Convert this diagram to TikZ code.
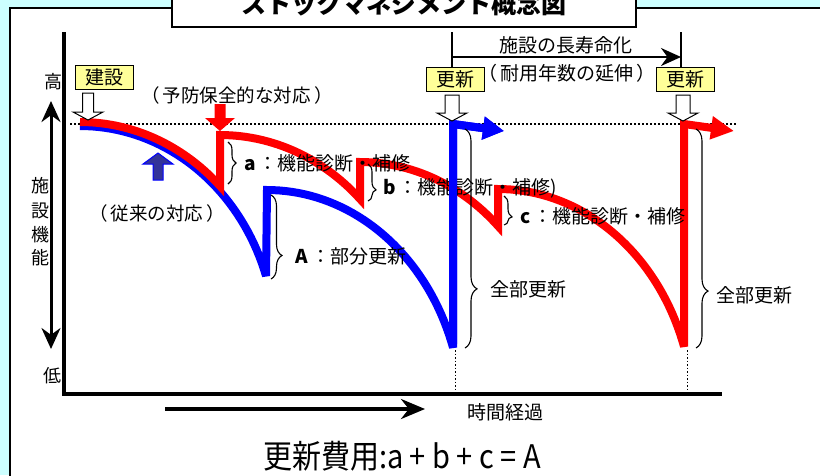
\documentclass[tikz,border=0pt]{standalone}
\usepackage{fontspec}
\usepackage{graphicx}
\setmainfont{Noto Sans CJK JP}
\usetikzlibrary{arrows.meta,decorations.pathreplacing}
\definecolor{bgcyan}{HTML}{CCFFFF}
\definecolor{boxyellow}{HTML}{FFFF99}
\definecolor{arrowblue}{HTML}{333399}
\newcommand{\fs}[1]{\fontsize{#1}{#1}\selectfont}
% style, cx, top, headstart, tip, shaft half width, head half width
\newcommand{\vshape}[7]{\path[#1] ({#2-#6},#3) -- ({#2-#6},#4) -- ({#2-#7},#4) -- (#2,#5) -- ({#2+#7},#4) -- ({#2+#6},#4) -- ({#2+#6},#3) -- cycle;}
\begin{document}
\begin{tikzpicture}[x=1pt,y=-1pt,
  lbl/.style={inner sep=0pt, font=\fs{19}},
  curve/.style={line width=8pt, line join=miter, miter limit=3},
  brc/.style={decorate, decoration={brace, amplitude=#1}, line width=1.1pt},
  ybox/.style={draw=black, fill=boxyellow, line width=1pt, inner sep=0pt, minimum width=58pt, minimum height=24pt, font=\fs{19}},
  hollow/.style={draw=black, fill=white, line width=1pt, line join=miter},
]
\useasboundingbox (0,0) rectangle (820,475);
% background
\fill[bgcyan] (0,0) rectangle (820,475);
\draw[fill=white, line width=1.5pt] (10,8) rectangle (840,495);
% title
\draw[fill=white, line width=1.5pt] (172,-10) rectangle (636,27);
\node[anchor=base, inner sep=0pt, font=\fs{25}\bfseries] (title) at (404,13) {ストックマネジメント概念図};

% axes
\draw[line width=4.5pt, line join=miter] (64,32) -- (64,394) -- (722,394);
% dotted reference line
\draw[line width=1.6pt, dash pattern=on 1.6pt off 2.4pt] (70,124) -- (737,124);
% dotted verticals
\draw[line width=1pt, dash pattern=on 1.5pt off 2pt] (455,350) -- (455,392);
\draw[line width=1pt, dash pattern=on 1.5pt off 2pt] (687,350) -- (687,392);

% vertical double arrow
\draw[line width=3pt, {Stealth[length=21pt,width=19pt]}-{Stealth[length=21pt,width=19pt]}] (51,101) -- (51,349);
\node[lbl, font=\fs{18}] (high) at (53,82) {高};
\node[lbl, font=\fs{18}] (low) at (52,376) {低};
\node[lbl, font=\fs{18}] (v1) at (40,186) {施};
\node[lbl, font=\fs{18}] (v2) at (40,211) {設};
\node[lbl, font=\fs{18}] (v3) at (40,235) {機};
\node[lbl, font=\fs{18}] (v4) at (40,258) {能};

% time arrow
\draw[line width=3.5pt, -{Stealth[length=24pt,width=20pt]}] (165,409) -- (425,409);
\node[lbl] (time) at (505,412) {時間経過};

% long-life marker
\coordinate (m1) at (452,32);
\coordinate (m2) at (681,32);
\draw[line width=1.2pt] (m1) -- (452,67);
\draw[line width=1.2pt] (m2) -- (681,67);
\draw[line width=2pt, -{Stealth[length=20pt,width=18pt]}] (452,57) -- (681,57);
\node[lbl] (life) at (566,45) {施設の長寿命化};
\node[lbl] (ext) at (567,73) {（\,耐用年数の延伸\,）};

% texts
\node[lbl, font=\fs{18.5}] (prev) at (237,95) {（\,予防保全的な対応\,）};
\node[lbl, font=\fs{18.5}] (conv) at (157,213) {（\,従来の対応\,）};

% blue curve (conventional)
\draw[curve, blue, -{Triangle[length=21pt,width=22pt]}]
  (80,126) -- plot[domain=0:72, samples=40] ({80+195.6*sin(\x)},{126+217*(1-cos(\x))})
  -- (267,190) -- plot[domain=0:72, samples=40] ({267+195.6*sin(\x)},{190+228*(1-cos(\x))})
  -- (453,124) -- (504,131);

% red curve (preventive)
\draw[curve, red, -{Triangle[length=23pt,width=22pt]}]
  (80,122) -- plot[domain=0:45, samples=30] ({80+198*sin(\x)},{122+218.5*(1-cos(\x))})
  -- (220,135) -- plot[domain=0:45, samples=30] ({220+198*sin(\x)},{135+218.5*(1-cos(\x))})
  -- (360,162) -- plot[domain=0:45, samples=30] ({360+195.2*sin(\x)},{162+218.5*(1-cos(\x))})
  -- (498,189) -- plot[domain=0:72, samples=40] ({498+195.6*sin(\x)},{189+228*(1-cos(\x))})
  -- (684,124) -- (734,131);

% label b lies over the red line but under the blue renewal line
\node[lbl, anchor=west] (lb) at (383,188) {\textbf{b}\,：機能診断・補修)};
\draw[curve, blue, -{Triangle[length=21pt,width=22pt]}] (453,344) -- (453,124) -- (504,131);

% labels
\node[lbl, anchor=west] (la) at (244,163) {\textbf{a}\,：機能診断・補修};
\node[lbl, anchor=west] (lc) at (520,216) {\textbf{c}\,：機能診断・補修};
\node[lbl, anchor=west] (lA) at (295,256) {\textbf{A}\,：部分更新};
\node[lbl, anchor=west] (all1) at (490,289) {全部更新};
\node[lbl, anchor=west] (all2) at (716,295) {全部更新};

% braces
\draw[brc=8, decoration={aspect=0.5}] (228,142) -- (228,184);
\draw[brc=8, decoration={aspect=0.7}] (368,164) -- (368,201);
\draw[brc=8, decoration={aspect=0.72}] (504,196) -- (504,225);
\draw[brc=11, decoration={aspect=0.72}] (271,195) -- (271,279);
\draw[brc=12, decoration={aspect=0.73}] (465,129) -- (465,348);
\draw[brc=12, decoration={aspect=0.74}] (696,129) -- (696,348);

% boxes
\node[ybox] (build) at (104,77.5) {建設};
\node[ybox] (ren1) at (455,79.5) {更新};
\node[ybox] (ren2) at (685.5,79.5) {更新};

% hollow arrows
\vshape{hollow}{88}{93}{112}{120}{5.5}{15}
\vshape{hollow}{452}{95}{113}{121}{7}{15}
\vshape{hollow}{683}{95}{113}{121}{7}{15}
% red and blue solid arrows
\vshape{fill=red}{220}{104}{118}{131}{5.5}{15}
\vshape{fill=arrowblue, draw=blue, line width=1pt}{158}{180}{164}{153}{5}{15}

% cost equation
\node[inner sep=0pt, font=\fs{29}] (cost) at (402,456) {\scalebox{1}[1.12]{更新費用:a + b + c = A}};
\end{tikzpicture}
\end{document}
